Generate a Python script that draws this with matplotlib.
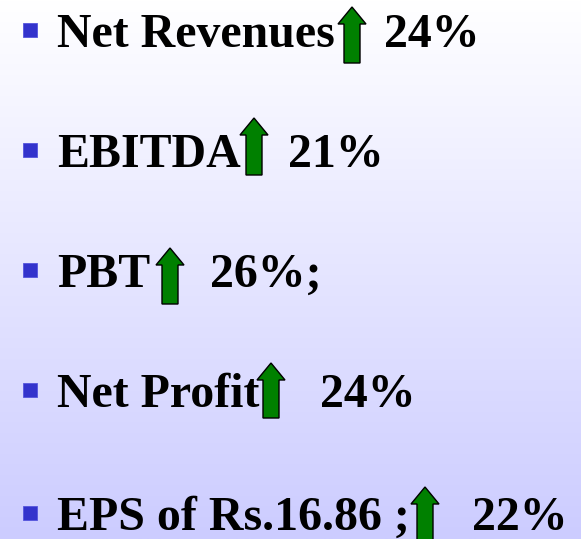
import matplotlib
matplotlib.use("Agg")
import matplotlib.pyplot as plt
import numpy as np
from matplotlib.patches import Rectangle, Polygon

# Data
labels = ["Net Revenues", "EBITDA", "PBT", "Net Profit", "EPS of Rs.16.86 ;"]
pct_texts = ["24%", "21%", "26%;", "24%", "22%"]

# Layout (pixel coordinates)
baselines = [47, 167, 287, 407, 530]
arrow_x = [338, 240, 156, 257, 411]
arrow_top = [7, 118, 248, 363, 487]
arrow_bottom = [63, 175, 304, 418, 543]
pct_x = [384, 288, 210, 320, 472]

W, H = 581, 539
fig = plt.figure(figsize=(W / 100, H / 100), dpi=100)
ax = fig.add_axes([0, 0, 1, 1])
ax.set_xlim(0, W)
ax.set_ylim(H, 0)
ax.axis("off")

# background gradient white -> lavender
grad = np.linspace(0, 1, 256).reshape(-1, 1)
top = np.array([1.0, 1.0, 1.0])
bot = np.array([204, 204, 255]) / 255
img = top[None, None, :] * (1 - grad[..., None]) + bot[None, None, :] * grad[..., None]
ax.imshow(img, extent=[0, W, H, 0], aspect="auto", zorder=0)

font = dict(family="Liberation Serif", weight="bold", fontsize=34.5, color="black")

for i, lab in enumerate(labels):
    b = baselines[i]
    # bullet
    ax.add_patch(Rectangle((23, b - 24), 14, 14, facecolor="#3333cc",
                           edgecolor="#5555dd", lw=0.6, zorder=2))
    ax.text(57, b, lab, va="baseline", ha="left", zorder=3, **font)
    # arrow
    x0 = arrow_x[i]
    t = arrow_top[i]
    bt = arrow_bottom[i]
    w = 28
    sw = 16
    hh = 17
    cx = x0 + w / 2
    pts = [(cx, t), (x0 + w, t + hh), (cx + sw / 2, t + hh), (cx + sw / 2, bt),
           (cx - sw / 2, bt), (cx - sw / 2, t + hh), (x0, t + hh)]
    ax.add_patch(Polygon(pts, closed=True, facecolor="#008000",
                         edgecolor="black", lw=1.0, zorder=4))
    ax.text(pct_x[i], b, pct_texts[i], va="baseline", ha="left", zorder=3, **font)

fig.savefig("out.png", dpi=100)
